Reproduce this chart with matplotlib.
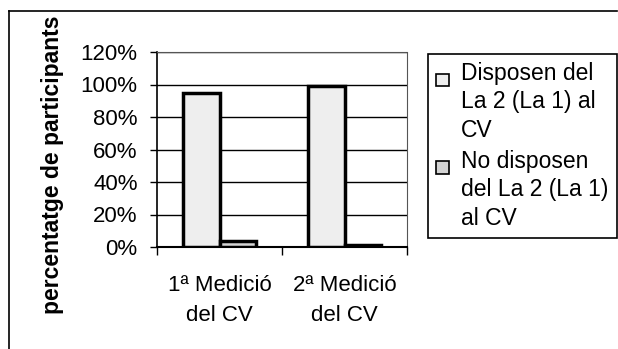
import matplotlib.pyplot as plt
import numpy as np
from matplotlib.lines import Line2D
from matplotlib.patches import Rectangle
from matplotlib.legend_handler import HandlerPatch
from matplotlib.ticker import PercentFormatter

plt.rcParams['font.family'] = ['Liberation Sans', 'DejaVu Sans']

categories = ['1ª Medició\ndel CV', '2ª Medició\ndel CV']
disposen = [95, 99]
no_disposen = [4, 1]
labels = ['Disposen del\nLa 2 (La 1) al\nCV', 'No disposen\ndel La 2 (La 1)\nal CV']

W, H = 618, 349
fig = plt.figure(figsize=(W / 100, H / 100), dpi=100)
ax = fig.add_axes([157 / W, 1 - 247 / H, 250 / W, 195 / H])

x = np.arange(len(categories))
bw = 0.294
b1 = ax.bar(x - bw / 2, disposen, bw, color='#eeeeee', edgecolor='black', linewidth=2.5, zorder=3)
b2 = ax.bar(x + bw / 2, no_disposen, bw, color='#d4d4d4', edgecolor='black', linewidth=2.5, zorder=3)

ax.set_xlim(-0.5, len(categories) - 0.5)
ax.set_ylim(0, 120)
ax.set_yticks(range(0, 121, 20))
ax.yaxis.set_major_formatter(PercentFormatter(decimals=0))
ax.yaxis.grid(True, color='black', linewidth=1)
ax.set_axisbelow(True)

ax.set_xticks(np.arange(len(categories) + 1) - 0.5)
ax.set_xticklabels([])
ax.set_xticks(x, categories, minor=True)
ax.tick_params(axis='x', which='major', length=6, width=1, direction='out')
ax.tick_params(axis='x', which='minor', length=0, pad=20, labelsize=16)
for t in ax.get_xticklabels(minor=True):
    t.set_linespacing(1.55)
ax.tick_params(axis='y', length=5, width=1, labelsize=16, pad=9)

for s in ['top', 'right']:
    ax.spines[s].set_color('#555555')
    ax.spines[s].set_linestyle((0, (2, 1)))
ax.spines['left'].set_linewidth(1.2)
ax.spines['bottom'].set_linewidth(1.5)

fig.text(53 / W, 1 - 165 / H, 'percentatge de participants', rotation=90,
         ha='center', va='center', fontsize=16.5, fontweight='bold')


def top_square(legend, orig_handle, xdescent, ydescent, width, height, fontsize):
    s = 0.55 * fontsize
    return Rectangle((-xdescent, height - ydescent - s - 0.12 * fontsize), s, s)


h1, h2 = b1.patches[0], b2.patches[0]
leg = ax.legend([h1, h2], labels, loc='upper left',
                bbox_to_anchor=(428 / W, 1 - 54 / H, 189 / W, 0.0),
                bbox_transform=fig.transFigure, mode='expand', borderaxespad=0,
                fancybox=False, edgecolor='black', framealpha=1, fontsize=16.5,
                handlelength=0.6, handleheight=4.2, handletextpad=0.5,
                labelspacing=0.35, borderpad=0.35,
                handler_map={h1: HandlerPatch(patch_func=top_square),
                             h2: HandlerPatch(patch_func=top_square)})
leg.get_frame().set_linewidth(1.2)
for h in leg.legend_handles:
    h.set_linewidth(1.2)
for t in leg.get_texts():
    t.set_linespacing(1.3)

# outer chart frame (top and left edges only visible)
fig.add_artist(Line2D([9 / W, 617 / W], [1 - 11 / H, 1 - 11 / H], color='black', linewidth=1.2))
fig.add_artist(Line2D([9 / W, 9 / W], [1 - 11 / H, 0], color='black', linewidth=1.2))

fig.savefig('out.png', dpi=100)
